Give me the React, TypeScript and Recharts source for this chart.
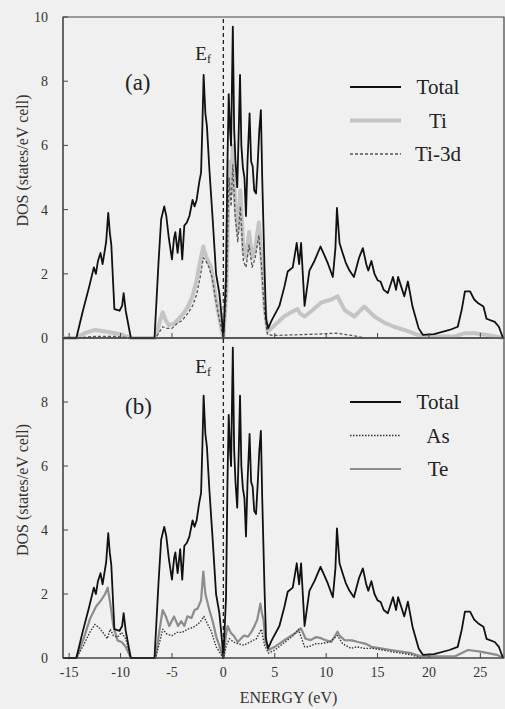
import React from 'react';
import { LineChart, Line, XAxis, YAxis, ReferenceLine, ReferenceArea, Legend } from 'recharts';

type Pt = [number, number];

const serif = 'Liberation Serif, Times New Roman, serif';

// energy axis (eV) and DOS axis ticks
const eDomain: [number, number] = [-15.6, 27.3];
const eTicks = [-15, -10, -5, 0, 5, 10, 15, 20, 25];
const dosTicksTop = [0, 2, 4, 6, 8, 10];
const dosTicksBottom = [0, 2, 4, 6, 8];

// total DOS (same curve in both panels)
const total: Pt[] = [
  [-15.6, 0], [-14.3, 0], [-13.7, 0.8], [-13.05, 1.6], [-12.6, 2.2], [-12.4, 2.0], [-12.2, 2.4], [-11.95, 2.65],
  [-11.75, 2.3], [-11.6, 2.6], [-11.4, 3.0], [-11.2, 3.9], [-11.05, 3.3], [-10.9, 2.9], [-10.6, 0.9], [-10.1, 0.85],
  [-9.85, 1.0], [-9.7, 1.4], [-9.5, 0.85], [-9.0, 0], [-6.7, 0], [-6.3, 2.4], [-6.05, 3.7], [-5.75, 4.1],
  [-5.55, 3.8], [-5.3, 3.1], [-5.0, 2.45], [-4.8, 3.1], [-4.67, 3.3], [-4.45, 2.65], [-4.2, 3.4], [-4.0, 2.45],
  [-3.8, 3.5], [-3.55, 3.6], [-3.3, 3.8], [-3.0, 4.3], [-2.8, 4.1], [-2.6, 4.3], [-2.35, 4.85], [-2.17, 5.15],
  [-2.05, 6.5], [-1.92, 8.2], [-1.75, 7.0], [-1.6, 6.6], [-1.36, 5.25], [-1.04, 3.7], [-0.71, 2.0], [-0.39, 1.4],
  [-0.15, 0.6], [0, 0], [0.26, 1.9], [0.4, 5.5], [0.52, 7.6], [0.65, 6.5], [0.75, 6.0], [0.92, 9.7],
  [1.05, 6.5], [1.18, 5.5], [1.35, 4.7], [1.5, 6.5], [1.62, 8.2], [1.75, 6.0], [1.9, 5.3], [2.05, 5.0],
  [2.2, 3.8], [2.35, 5.5], [2.55, 7.0], [2.7, 5.5], [2.85, 5.35], [3.0, 4.6], [3.18, 4.5], [3.35, 5.5],
  [3.5, 6.5], [3.65, 7.1], [3.78, 5.0], [4.0, 2.2], [4.15, 0.6], [4.35, 0.3], [4.7, 0.55], [5.45, 1.0],
  [5.94, 1.6], [6.26, 2.07], [6.75, 2.2], [7.14, 2.96], [7.37, 2.3], [7.56, 2.96], [7.9, 1.0], [8.37, 2.1],
  [8.86, 2.4], [9.45, 2.85], [9.8, 2.6], [10.16, 2.33], [10.65, 1.9], [10.9, 2.8], [11.05, 4.05], [11.3, 2.96],
  [11.6, 2.65], [11.9, 2.35], [12.27, 2.1], [12.7, 1.9], [13.2, 2.5], [13.57, 2.8], [13.9, 2.3], [14.1, 2.1],
  [14.4, 2.4], [14.7, 2.0], [15.0, 1.8], [15.3, 1.75], [15.6, 1.5], [16.0, 1.4], [16.5, 1.9], [16.8, 1.5],
  [17.0, 1.9], [17.3, 1.6], [17.6, 1.3], [17.95, 1.76], [18.4, 0.98], [19.0, 0.3], [19.4, 0.1], [20.5, 0.12],
  [22.0, 0.25], [22.8, 0.35], [23.2, 0.9], [23.5, 1.45], [24.0, 1.45], [24.4, 1.2], [24.8, 1.08], [25.3, 0.98],
  [25.6, 0.6], [26.4, 0.5], [26.8, 0.35], [27.2, 0],
];

// panel (a): Ti partial and Ti-3d
const ti: Pt[] = [
  [-15.6, 0], [-14.3, 0], [-13.5, 0.15], [-12.5, 0.25], [-11.5, 0.2], [-10.5, 0.15], [-9.8, 0.1], [-9.0, 0],
  [-6.6, 0], [-6.2, 0.5], [-5.9, 0.8], [-5.6, 0.55], [-5.3, 0.4], [-4.8, 0.45], [-4.3, 0.6], [-3.8, 0.8],
  [-3.4, 1.0], [-3.0, 1.3], [-2.6, 1.8], [-2.25, 2.4], [-1.95, 2.85], [-1.75, 2.6], [-1.5, 2.4], [-1.2, 2.2],
  [-0.9, 1.6], [-0.5, 0.8], [0, 0], [0.3, 1.5], [0.55, 5.5], [0.75, 4.5], [0.92, 6.0], [1.15, 4.2],
  [1.4, 3.3], [1.65, 4.6], [1.95, 2.7], [2.2, 2.5], [2.5, 3.3], [2.8, 2.5], [3.1, 2.8], [3.45, 3.6],
  [3.7, 2.6], [4.0, 1.0], [4.3, 0.2], [5.0, 0.4], [5.9, 0.67], [6.6, 0.8], [7.2, 0.9], [7.5, 0.75],
  [7.9, 0.67], [8.6, 0.85], [9.5, 1.1], [10.5, 1.2], [11.1, 1.3], [11.8, 0.87], [12.75, 0.67], [13.7, 0.98],
  [14.7, 0.67], [15.7, 0.47], [16.6, 0.35], [17.6, 0.25], [18.9, 0.1], [19.5, 0.05], [22.5, 0.05], [23.5, 0.15],
  [24.5, 0.15], [25.5, 0.1], [27.2, 0],
];

const ti3d: Pt[] = [
  [-15.6, 0], [-14.3, 0], [-12.5, 0.05], [-10.5, 0.05], [-9.0, 0], [-6.6, 0], [-6.2, 0.2], [-5.9, 0.35],
  [-5.5, 0.3], [-5.0, 0.3], [-4.5, 0.45], [-4.0, 0.55], [-3.5, 0.75], [-3.0, 1.0], [-2.6, 1.35], [-2.25, 1.9],
  [-1.95, 2.5], [-1.7, 2.4], [-1.4, 2.2], [-1.1, 1.9], [-0.8, 1.3], [-0.4, 0.6], [0, 0], [0.3, 1.3],
  [0.55, 5.0], [0.75, 4.1], [0.92, 5.4], [1.15, 3.8], [1.4, 3.0], [1.65, 4.1], [1.95, 2.4], [2.2, 2.2],
  [2.5, 2.9], [2.8, 2.2], [3.1, 2.5], [3.45, 3.2], [3.7, 2.3], [4.0, 0.8], [4.3, 0.1], [5.0, 0.08],
  [7.0, 0.1], [9.0, 0.12], [11.0, 0.15], [12.5, 0.08], [13.5, 0.02],
];

// panel (b): As and Te partials
const asDos: Pt[] = [
  [-15.6, 0], [-14.3, 0], [-13.6, 0.4], [-13.0, 0.8], [-12.5, 1.05], [-12.1, 0.95], [-11.6, 0.75], [-11.3, 0.6],
  [-11.0, 0.9], [-10.7, 0.7], [-10.3, 0.65], [-9.9, 0.8], [-9.5, 0.6], [-9.0, 0], [-6.6, 0], [-6.2, 0.5],
  [-5.9, 0.9], [-5.5, 0.75], [-5.0, 0.7], [-4.5, 0.8], [-4.0, 0.8], [-3.5, 0.9], [-3.0, 0.95], [-2.5, 1.05],
  [-2.2, 1.15], [-1.9, 1.3], [-1.6, 1.1], [-1.2, 0.85], [-0.7, 0.35], [0, 0], [0.3, 0.4], [0.6, 0.6],
  [1.0, 0.5], [1.4, 0.45], [2.0, 0.4], [2.6, 0.5], [3.2, 0.6], [3.7, 0.9], [4.0, 0.4], [4.4, 0.15],
  [5.0, 0.25], [6.0, 0.5], [6.8, 0.7], [7.3, 0.9], [7.9, 0.35], [8.3, 0.35], [9.0, 0.45], [9.5, 0.45],
  [10.3, 0.5], [11.1, 0.7], [11.6, 0.45], [12.4, 0.3], [13.0, 0.35], [13.7, 0.3], [14.5, 0.3], [15.5, 0.25],
  [16.3, 0.2], [17.3, 0.15], [18.3, 0.1], [19.2, 0],
];

const te: Pt[] = [
  [-15.6, 0], [-14.3, 0], [-13.6, 0.6], [-13.0, 1.2], [-12.4, 1.6], [-11.9, 1.8], [-11.5, 2.0], [-11.25, 2.2],
  [-11.0, 1.7], [-10.7, 1.0], [-10.3, 0.55], [-9.9, 0.5], [-9.5, 0.35], [-9.0, 0], [-6.6, 0], [-6.2, 0.9],
  [-5.9, 1.5], [-5.6, 1.3], [-5.26, 1.0], [-4.8, 1.3], [-4.4, 1.0], [-4.1, 1.15], [-3.8, 1.0], [-3.5, 1.3],
  [-3.1, 1.25], [-2.8, 1.5], [-2.5, 1.55], [-2.17, 1.8], [-1.95, 2.7], [-1.75, 2.0], [-1.36, 1.5], [-1.0, 1.1],
  [-0.7, 0.67], [-0.3, 0.3], [0, 0], [0.25, 0.7], [0.42, 1.0], [0.7, 0.8], [1.07, 0.67], [1.4, 0.5],
  [1.7, 0.6], [2.0, 0.7], [2.4, 0.67], [2.7, 0.8], [3.0, 0.98], [3.3, 1.2], [3.6, 1.7], [3.75, 1.4],
  [3.9, 1.2], [4.1, 0.5], [4.4, 0.25], [5.0, 0.35], [5.9, 0.55], [6.6, 0.7], [7.2, 0.82], [7.55, 0.93],
  [8.0, 0.6], [8.5, 0.56], [9.0, 0.65], [9.5, 0.62], [10.0, 0.55], [10.5, 0.5], [11.1, 0.82], [11.3, 0.7],
  [11.8, 0.56], [12.5, 0.55], [13.1, 0.5], [13.8, 0.45], [14.4, 0.35], [15.3, 0.3], [16.3, 0.25], [17.3, 0.2],
  [18.3, 0.15], [19.2, 0.05], [22.5, 0.05], [23.8, 0.25], [25.0, 0.2], [26.6, 0.1], [27.2, 0],
];

interface Series {
  name: string;
  pts: Pt[];
  stroke: string;
  width: number;
  dash?: string;
}

const totalS: Series = { name: 'Total', pts: total, stroke: '#111', width: 1.8 };
const tiS: Series = { name: 'Ti', pts: ti, stroke: '#c4c4c4', width: 4 };
const ti3dS: Series = { name: 'Ti-3d', pts: ti3d, stroke: '#555', width: 1.3, dash: '3 2' };
const teS: Series = { name: 'Te', pts: te, stroke: '#8c8c8c', width: 2.2 };
const asS: Series = { name: 'As', pts: asDos, stroke: '#333', width: 1.4, dash: '1.5 1.5' };

// draw order (back to front) and legend order
const drawA = [tiS, ti3dS, totalS];
const legendA = [totalS, tiS, ti3dS];
const drawB = [teS, asS, totalS];
const legendB = [totalS, asS, teS];

const rows = (pts: Pt[]) => pts.map(([e, d]) => ({ e, d }));

const LegendBox = ({ items }: { items: Series[] }) => (
  <svg width={160} height={120} style={{ overflow: 'visible', display: 'block' }}>
    {items.map((s, i) => (
      <g key={s.name}>
        <line x1={5} x2={56} y1={16 + i * 33.5} y2={16 + i * 33.5} stroke={s.stroke} strokeWidth={s.width} strokeDasharray={s.dash} />
        <text x={93} y={23 + i * 33.5} textAnchor="middle" fontSize={21} fontFamily={serif} style={{ fontFamily: serif }} fill="#222">
          {s.name}
        </text>
      </g>
    ))}
  </svg>
);

const DosTitle = ({ viewBox, shift }: any) => {
  const cx = 22;
  const cy = viewBox.y + viewBox.height / 2 + shift;
  return (
    <text x={cx} y={cy} transform={`rotate(-90 ${cx} ${cy})`} textAnchor="middle" dominantBaseline="central"
      fontSize={16} fontFamily={serif} style={{ fontFamily: serif }} fill="#333">
      DOS (states/eV cell)
    </text>
  );
};

const PanelTag = ({ viewBox, text, dy }: any) => (
  <text x={viewBox.x + 62} y={viewBox.y + dy} fontSize={23} fontFamily={serif} style={{ fontFamily: serif }} fill="#222">{text}</text>
);

const FermiMark = ({ viewBox, dy }: any) => (
  <text x={viewBox.x - 28} y={viewBox.y + dy} fontSize={19} fontFamily={serif} style={{ fontFamily: serif }} fill="#222">
    E<tspan fontSize={12} dy={3}>f</tspan>
  </text>
);

const tickStyle = { fontSize: 14, fill: '#333', fontFamily: serif };
const empty = () => '';

interface PanelProps {
  draw: Series[];
  legend: Series[];
  top: number;
  height: number;
  marginTop: number;
  xHeight: number;
  yTicks: number[];
  tag: string;
  tagDy: number;
  fermiDy: number;
  titleShift: number;
  legendTop: number;
  bottomAxis: boolean;
}

const Panel = (p: PanelProps) => (
  <div style={{ position: 'absolute', left: 0, top: p.top, fontFamily: serif }}>
    <LineChart width={505} height={p.height} margin={{ top: p.marginTop, right: 1, bottom: 0, left: 0 }}>
      <XAxis
        type="number"
        dataKey="e"
        domain={eDomain}
        ticks={eTicks}
        interval={0}
        height={p.xHeight}
        tickSize={-5}
        tickMargin={p.bottomAxis ? 14 : 0}
        tick={tickStyle}
        tickFormatter={p.bottomAxis ? undefined : empty}
        axisLine={{ stroke: '#444' }}
        tickLine={{ stroke: '#444' }}
        label={p.bottomAxis ? { value: 'ENERGY (eV)', position: 'insideBottom', offset: 6, dx: 5, fontSize: 16, fontFamily: serif, fill: '#333' } : undefined}
      />
      <XAxis
        xAxisId="top"
        orientation="top"
        type="number"
        dataKey="e"
        domain={eDomain}
        ticks={eTicks}
        interval={0}
        height={0}
        tickSize={-5}
        tickFormatter={empty}
        axisLine={{ stroke: '#444' }}
        tickLine={{ stroke: '#444' }}
      />
      <YAxis
        type="number"
        domain={[0, 10]}
        ticks={p.yTicks}
        interval={0}
        width={63}
        tickSize={-5}
        tickMargin={20}
        tick={tickStyle}
        axisLine={{ stroke: '#444' }}
        tickLine={{ stroke: '#444' }}
        label={<DosTitle shift={p.titleShift} />}
      />
      <ReferenceArea
        x1={eDomain[0]}
        x2={eDomain[1]}
        y1={0}
        y2={10}
        fill="none"
        stroke="#444"
        strokeWidth={1.2}
        label={<PanelTag text={p.tag} dy={p.tagDy} />}
      />
      <ReferenceLine x={0} stroke="#222" strokeWidth={1.3} strokeDasharray="4 3" label={<FermiMark dy={p.fermiDy} />} />
      {p.draw.map((s) => (
        <Line
          key={s.name}
          data={rows(s.pts)}
          dataKey="d"
          name={s.name}
          type="linear"
          dot={false}
          activeDot={false}
          stroke={s.stroke}
          strokeWidth={s.width}
          strokeDasharray={s.dash}
          strokeLinejoin="round"
          isAnimationActive={false}
        />
      ))}
      <Legend
        layout="vertical"
        align="center"
        verticalAlign="middle"
        wrapperStyle={{ left: 345, top: p.legendTop, width: 160, height: 120 }}
        content={() => <LegendBox items={p.legend} />}
      />
    </LineChart>
  </div>
);

export default function App() {
  return (
    <div style={{ position: 'absolute', left: 0, top: 0, width: 505, height: 709, background: '#f0f0f0', overflow: 'hidden' }}>
      <Panel draw={drawA} legend={legendA} top={0} height={346} marginTop={17} xHeight={8} yTicks={dosTicksTop}
        tag="(a)" tagDy={73} fermiDy={43} titleShift={-17} legendTop={71} bottomAxis={false} />
      <Panel draw={drawB} legend={legendB} top={320} height={389} marginTop={18} xHeight={51} yTicks={dosTicksBottom}
        tag="(b)" tagDy={76} fermiDy={35} titleShift={-8} legendTop={66} bottomAxis={true} />
    </div>
  );
}
